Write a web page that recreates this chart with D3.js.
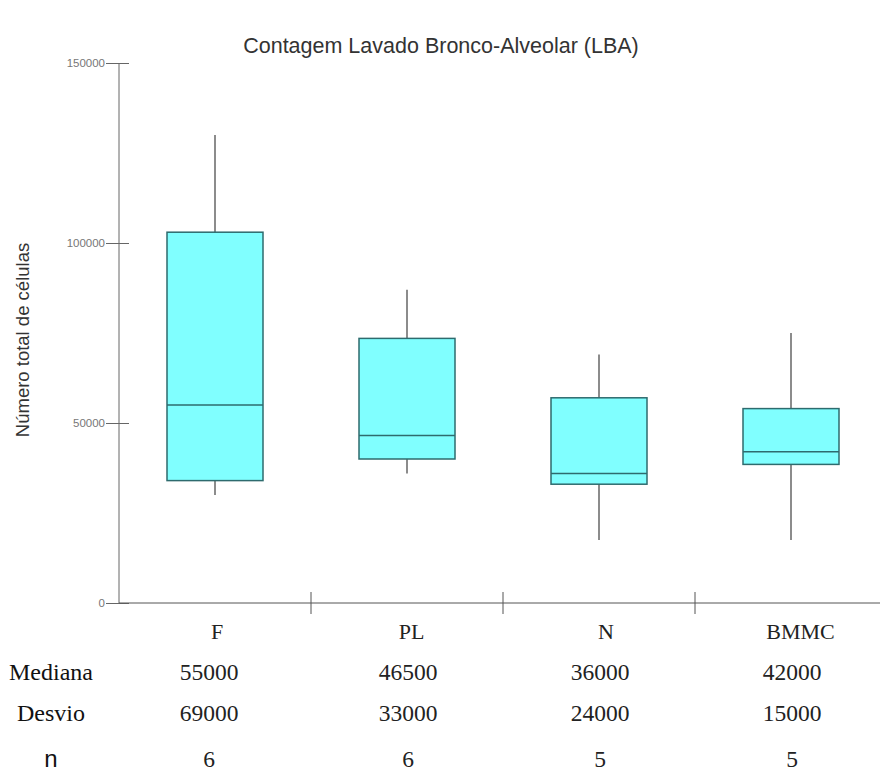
<!DOCTYPE html>
<html lang="pt">
<head>
<meta charset="UTF-8">
<title>Contagem Lavado Bronco-Alveolar (LBA)</title>
<script src="https://d3js.org/d3.v7.min.js"></script>
<style>
  body { margin: 0; background: #fff; }
  .sans { font-family: "Liberation Sans", Arial, sans-serif; }
  .serif { font-family: "Liberation Serif", "Times New Roman", serif; }
</style>
</head>
<body>
<svg id="chart" width="880" height="771"></svg>
<script>
// data
const categories = ["F", "PL", "N", "BMMC"];
const whiskerHigh = [130000, 87000, 69000, 75000];
const q3 = [103000, 73500, 57000, 54000];
const medians = [55000, 46500, 36000, 42000];
const q1 = [34000, 40000, 33000, 38500];
const whiskerLow = [30000, 36000, 17500, 17500];
const yTicks = [0, 50000, 100000, 150000];

const rowLabels = ["Mediana", "Desvio", "n"];
const medianaRow = ["55000", "46500", "36000", "42000"];
const desvioRow = ["69000", "33000", "24000", "15000"];
const nRow = ["6", "6", "5", "5"];

const boxes = categories.map((c, i) => ({
  cat: c, hi: whiskerHigh[i], q3: q3[i], med: medians[i], q1: q1[i], lo: whiskerLow[i]
}));

const svg = d3.select("#chart");
const plotLeft = 119, plotTop = 63, plotBottom = 603;

const x = d3.scaleBand().domain(categories).range([plotLeft, plotLeft + 768]);
const y = d3.scaleLinear().domain([0, 150000]).range([plotBottom, plotTop]);

// title
svg.append("text")
  .attr("class", "sans")
  .attr("x", 441).attr("y", 53)
  .attr("text-anchor", "middle")
  .attr("font-size", 21.5)
  .attr("fill", "#333")
  .text("Contagem Lavado Bronco-Alveolar (LBA)");

// y axis label
svg.append("text")
  .attr("class", "sans")
  .attr("transform", `translate(29,340) rotate(-90)`)
  .attr("text-anchor", "middle")
  .attr("font-size", 18.5)
  .attr("fill", "#333")
  .text("Número total de células");

// y axis
const yAxis = svg.append("g")
  .attr("transform", `translate(${plotLeft},0)`)
  .call(d3.axisLeft(y).tickValues(yTicks).tickSize(13).tickPadding(1).tickFormat(d3.format("d")));
yAxis.select(".domain").attr("stroke", "#666").attr("d", `M0,${plotTop}V${plotBottom}`);
yAxis.selectAll(".tick line").attr("stroke", "#666").attr("x2", -13).attr("x1", 10);
yAxis.selectAll(".tick text")
  .attr("class", "sans")
  .attr("font-size", 11.5)
  .attr("fill", "#777");

// x axis: line with separators between categories
svg.append("line")
  .attr("x1", plotLeft).attr("x2", x.range()[1])
  .attr("y1", plotBottom).attr("y2", plotBottom)
  .attr("stroke", "#555");
svg.selectAll(".sep")
  .data(categories.slice(1))
  .enter().append("line")
  .attr("class", "sep")
  .attr("x1", d => x(d)).attr("x2", d => x(d))
  .attr("y1", plotBottom - 11).attr("y2", plotBottom + 11)
  .attr("stroke", "#555");

// category labels
svg.selectAll(".cat")
  .data(categories)
  .enter().append("text")
  .attr("class", "serif")
  .attr("x", (d, i) => x(d) + x.bandwidth() / 2 + 2 + i * 2.5)
  .attr("y", 639)
  .attr("text-anchor", "middle")
  .attr("font-size", 22)
  .attr("fill", "#222")
  .text(d => d);

// boxes
const bw = x.bandwidth() / 2;
const g = svg.selectAll(".box")
  .data(boxes)
  .enter().append("g")
  .attr("class", "box");

g.append("line")
  .attr("x1", d => x(d.cat) + x.bandwidth() / 2)
  .attr("x2", d => x(d.cat) + x.bandwidth() / 2)
  .attr("y1", d => y(d.hi)).attr("y2", d => y(d.lo))
  .attr("stroke", "#666").attr("stroke-width", 1.5);

g.append("rect")
  .attr("x", d => x(d.cat) + x.bandwidth() / 4)
  .attr("width", bw)
  .attr("y", d => y(d.q3))
  .attr("height", d => y(d.q1) - y(d.q3))
  .attr("fill", "#80ffff")
  .attr("stroke", "#2e6b6e")
  .attr("stroke-width", 1.5);

g.append("line")
  .attr("x1", d => x(d.cat) + x.bandwidth() / 4)
  .attr("x2", d => x(d.cat) + x.bandwidth() / 4 + bw)
  .attr("y1", d => y(d.med)).attr("y2", d => y(d.med))
  .attr("stroke", "#2e6b6e").attr("stroke-width", 1.5);

// table under the chart
const rows = [medianaRow, desvioRow, nRow];
const rowY = [680, 721, 767];

rowLabels.forEach((lab, r) => {
  svg.append("text")
    .attr("class", r === 2 ? "sans" : "serif")
    .attr("x", 51).attr("y", rowY[r])
    .attr("text-anchor", "middle")
    .attr("font-size", r === 2 ? 24 : 24)
    .attr("fill", "#111")
    .text(lab);

  svg.selectAll(".row" + r)
    .data(rows[r])
    .enter().append("text")
    .attr("class", "serif")
    .attr("x", (d, i) => x(categories[i]) + x.bandwidth() / 2 + (i === 0 ? -6 : 1))
    .attr("y", rowY[r])
    .attr("text-anchor", "middle")
    .attr("font-size", 23.5)
    .attr("fill", "#222")
    .text(d => d);
});
</script>
</body>
</html>
